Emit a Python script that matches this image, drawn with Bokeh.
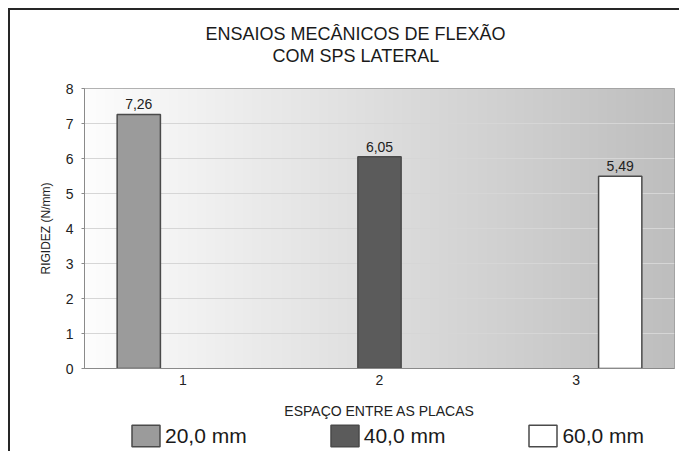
import numpy as np
from bokeh.plotting import figure
from bokeh.layouts import column
from bokeh.models import Range1d, FixedTicker, Title, Legend, LegendItem, ColumnDataSource
from bokeh.core.properties import value
from bokeh.embed import file_html
from bokeh.resources import INLINE

# ---- data ----
title_lines = ["ENSAIOS MECÂNICOS DE FLEXÃO", "COM SPS LATERAL"]
categories = [1, 2, 3]
series_names = ["20,0 mm", "40,0 mm", "60,0 mm"]
series_category = [1, 2, 3]
rigidez = [7.26, 6.05, 5.49]
series_colors = ["#9b9b9b", "#5b5b5b", "#ffffff"]
y_ticks = [0, 1, 2, 3, 4, 5, 6, 7, 8]
x_label = "ESPAÇO ENTRE AS PLACAS"
y_label = "RIGIDEZ (N/mm)"

FONT = "Liberation Sans"
bar_w = 0.22
dodge = [-0.224, 0.0, 0.224]
BAR_LINE = "#4a4a4a"

p = figure(width=669, height=412, output_backend="svg", toolbar_location=None,
           x_range=Range1d(0.5, 3.5), y_range=Range1d(0, 8),
           min_border_left=74, min_border_right=5, min_border_top=78, min_border_bottom=54)
p.background_fill_color = "white"
p.border_fill_color = "white"
p.outline_line_color = "#9a9a9a"
p.outline_line_width = 1

# gradient background of the plot area
ncol = 256
t = np.linspace(0, 1, ncol)
lv = (253 - t * (253 - 190)).astype(np.uint32)
row = (255 << 24) | (lv << 16) | (lv << 8) | lv
img = np.tile(row, (2, 1)).astype(np.uint32)
xs, xe = p.x_range.start, p.x_range.end
ys, ye = p.y_range.start, p.y_range.end
p.image_rgba(image=[img], x=xs, y=ys, dw=xe - xs, dh=ye - ys, level="image")

# grid
p.xgrid.visible = False
p.ygrid.ticker = FixedTicker(ticks=y_ticks)
p.ygrid.grid_line_color = "#d6d6d6"
p.ygrid.grid_line_width = 1

# bars
sources = []
for i, name in enumerate(series_names):
    xc = series_category[i] + dodge[i]
    src = ColumnDataSource(dict(x=[xc], top=[rigidez[i]],
                                lab=[f"{rigidez[i]:.2f}".replace(".", ",")]))
    sources.append(src)
    p.vbar(x="x", top="top", width=bar_w, bottom=0, source=src,
           fill_color=series_colors[i], line_color=BAR_LINE, line_width=1.5)
    p.text(x="x", y="top", text="lab", source=src, text_align="center",
           text_baseline="bottom", y_offset=-5, text_font_size="14px",
           text_color="#222222", text_font=value(FONT))

# axes
p.xaxis.ticker = FixedTicker(ticks=categories)
p.xaxis.major_label_overrides = {c: str(c) for c in categories}
p.xaxis.major_tick_out = 0
p.xaxis.major_tick_in = 0
p.xaxis.minor_tick_out = 0
p.xaxis.minor_tick_in = 0
p.xaxis.major_label_standoff = 6
p.xaxis.major_label_text_font_size = "14px"
p.xaxis.major_label_text_font = FONT
p.xaxis.major_label_text_color = "#222222"
p.xaxis.axis_line_color = "#8a8a8a"
p.xaxis.axis_label = x_label
p.xaxis.axis_label_text_font = FONT
p.xaxis.axis_label_text_font_size = "14px"
p.xaxis.axis_label_text_font_style = "normal"
p.xaxis.axis_label_text_color = "#222222"
p.xaxis.axis_label_standoff = 15

p.yaxis.ticker = FixedTicker(ticks=y_ticks)
p.yaxis.major_tick_out = 3
p.yaxis.major_tick_in = 0
p.yaxis.minor_tick_out = 0
p.yaxis.minor_tick_in = 0
p.yaxis.major_tick_line_color = "#8a8a8a"
p.yaxis.axis_line_color = "#8a8a8a"
p.yaxis.major_label_standoff = 8
p.yaxis.major_label_text_font_size = "14px"
p.yaxis.major_label_text_font = FONT
p.yaxis.major_label_text_color = "#222222"
p.yaxis.axis_label = y_label
p.yaxis.axis_label_text_font = FONT
p.yaxis.axis_label_text_font_size = "12px"
p.yaxis.axis_label_text_font_style = "normal"
p.yaxis.axis_label_text_color = "#222222"
p.yaxis.axis_label_standoff = 10

# title: spacer, then two lines (added bottom-up)
p.add_layout(Title(text=" ", text_font_size="1px", standoff=20), "above")
p.add_layout(Title(text=title_lines[1], align="left", offset=188, text_font=FONT,
                   text_font_size="18px", text_font_style="normal",
                   text_color="#1a1a1a", standoff=0), "above")
p.add_layout(Title(text=title_lines[0], align="left", offset=121, text_font=FONT,
                   text_font_size="18px", text_font_style="normal",
                   text_color="#1a1a1a", standoff=0), "above")

# legend strip below the chart
p2 = figure(width=669, height=29, output_backend="svg", toolbar_location=None,
            x_range=Range1d(0, 1), y_range=Range1d(0, 1),
            x_axis_location=None, y_axis_location=None,
            min_border=0, min_border_left=0, min_border_right=0,
            min_border_top=0, min_border_bottom=0)
p2.outline_line_color = None
p2.grid.visible = False
p2.background_fill_color = "white"
p2.border_fill_color = "white"
items = []
for i, name in enumerate(series_names):
    r = p2.vbar(x="x", top="top", width=bar_w, source=sources[i],
                fill_color=series_colors[i], line_color=BAR_LINE, line_width=1.5,
                visible=False)
    items.append(LegendItem(label=name, renderers=[r]))
legend = Legend(items=items, orientation="horizontal", location=(44, 2),
                glyph_width=35, glyph_height=27, label_standoff=2, spacing=80,
                padding=0, margin=0, border_line_alpha=0, background_fill_alpha=0,
                inactive_fill_alpha=0,
                label_text_font=FONT, label_text_font_size="21px",
                label_text_color="#1a1a1a")
p2.add_layout(legend, "center")

layout = column(p, p2, spacing=0,
                styles={"margin-left": "8px", "margin-top": "8px",
                        "border-left": "2px solid #262626",
                        "border-top": "2px solid #262626"})

open("out.html", "w").write(file_html(layout, INLINE))
